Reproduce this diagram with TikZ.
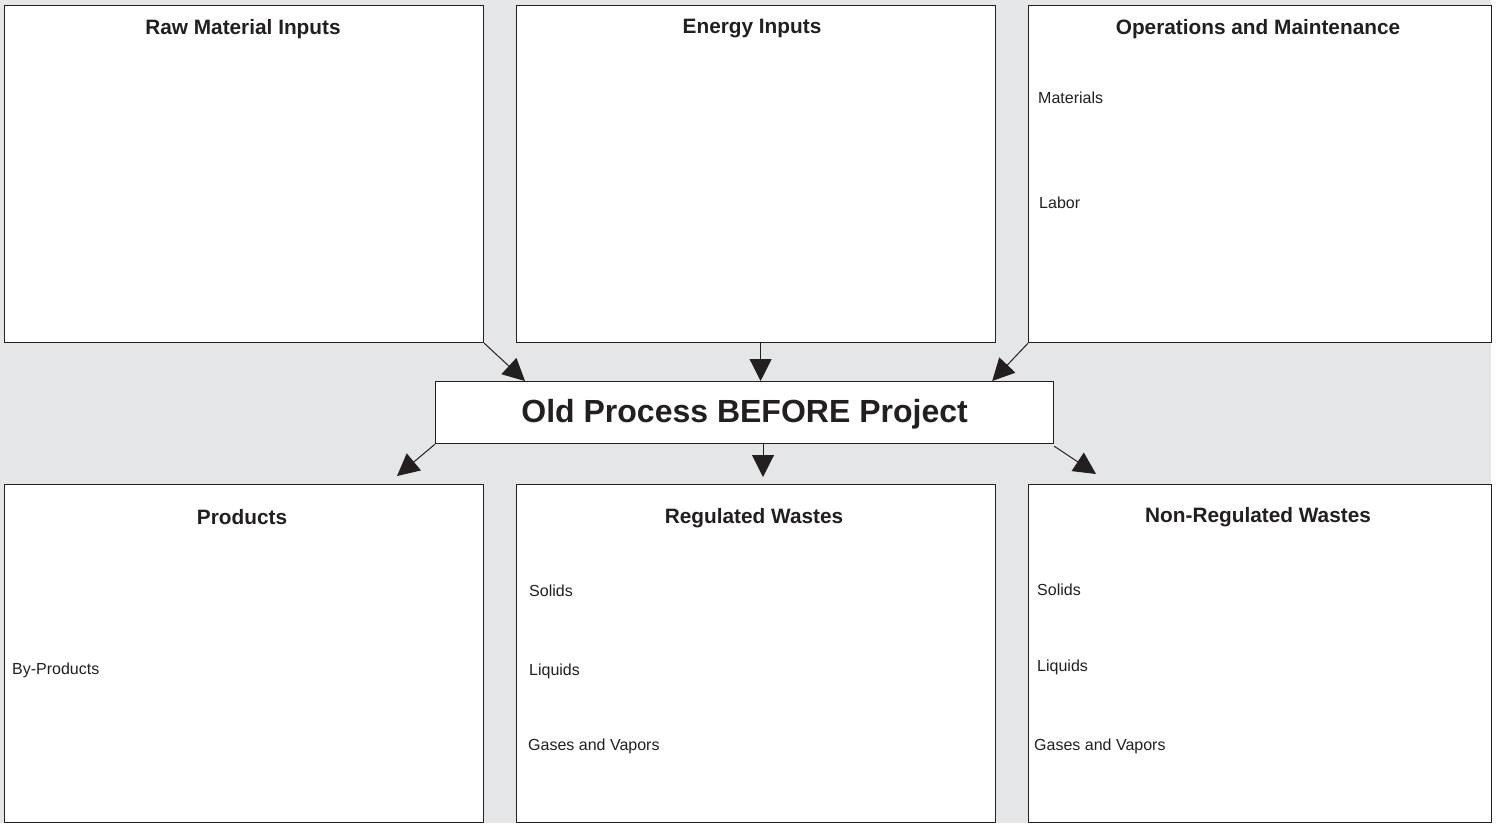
\documentclass[tikz,border=0pt]{standalone}
\usepackage{fontspec}
\setmainfont{Liberation Sans}
\usetikzlibrary{arrows.meta}
\definecolor{bggray}{HTML}{E5E6E8}
\definecolor{linecol}{HTML}{231F20}
\tikzset{
  box/.style={draw=linecol, line width=1.2pt, fill=white, inner sep=0pt, anchor=north west},
  title/.style={font=\fontsize{20.8}{24}\selectfont\bfseries, text=linecol, inner sep=0pt},
  item/.style={font=\fontsize{16}{18}\selectfont, text=linecol, anchor=west, inner sep=0pt},
  arr/.style={draw=linecol, line width=1pt, -{Triangle[length=22pt,width=22pt]}},
}
\begin{document}
\begin{tikzpicture}[x=1pt,y=-1pt]
\useasboundingbox (0,0) rectangle (1496,823);
\fill[bggray] (0,0) rectangle (1491,823);
% top row
\node[box, minimum width=479pt, minimum height=337pt] (b1) at (4,5) {};
\node[box, minimum width=479pt, minimum height=337pt] (b2) at (516,5) {};
\node[box, minimum width=463pt, minimum height=337pt] (b3) at (1028,5) {};
% bottom row
\node[box, minimum width=479pt, minimum height=338pt] (b4) at (4,484) {};
\node[box, minimum width=479pt, minimum height=338pt] (b5) at (516,484) {};
\node[box, minimum width=463pt, minimum height=338pt] (b6) at (1028,484) {};
% centre
\node[box, minimum width=618pt, minimum height=62pt] (c) at (435,381) {};
\node[font=\fontsize{32}{36}\selectfont\bfseries, text=linecol, inner sep=0pt] (ct) at ([yshift=-2pt]c.center) {Old Process BEFORE Project};
% titles
\node[title] (t1) at (243,29) {Raw Material Inputs};
\node[title] (t2) at (752,29) {Energy Inputs};
\node[title] (t3) at (1258,29) {Operations and Maintenance};
\node[title] (t4) at (242,517) {Products};
\node[title] (t5) at (754,518) {Regulated Wastes};
\node[title] (t6) at (1258,517) {Non-Regulated Wastes};
% items
\node[item] (i1) at (1038,98) {Materials};
\node[item] (i2) at (1039,203) {Labor};
\node[item] (i3) at (12,670) {By-Products};
\node[item] (i4) at (529,591) {Solids};
\node[item] (i5) at (529,671) {Liquids};
\node[item] (i6) at (528,746) {Gases and Vapors};
\node[item] (i7) at (1037,590) {Solids};
\node[item] (i8) at (1037,667) {Liquids};
\node[item] (i9) at (1034,746) {Gases and Vapors};
% arrow ends
\coordinate (e4) at (397,476);
\coordinate (e5) at (763,477);
\coordinate (e6) at (1096,474);
% arrows
\draw[arr] (b1.south east) -- ([xshift=90pt]c.north west);
\draw[arr] ([xshift=4.5pt]b2.south) -- ([xshift=4.5pt]b2.south |- c.north);
\draw[arr] (b3.south west) -- ([xshift=-62pt]c.north east);
\draw[arr] (c.south west) -- (e4);
\draw[arr] (c.south -| e5) -- (e5);
\draw[arr] ([yshift=-2pt]c.south east) -- (e6);
\end{tikzpicture}
\end{document}
